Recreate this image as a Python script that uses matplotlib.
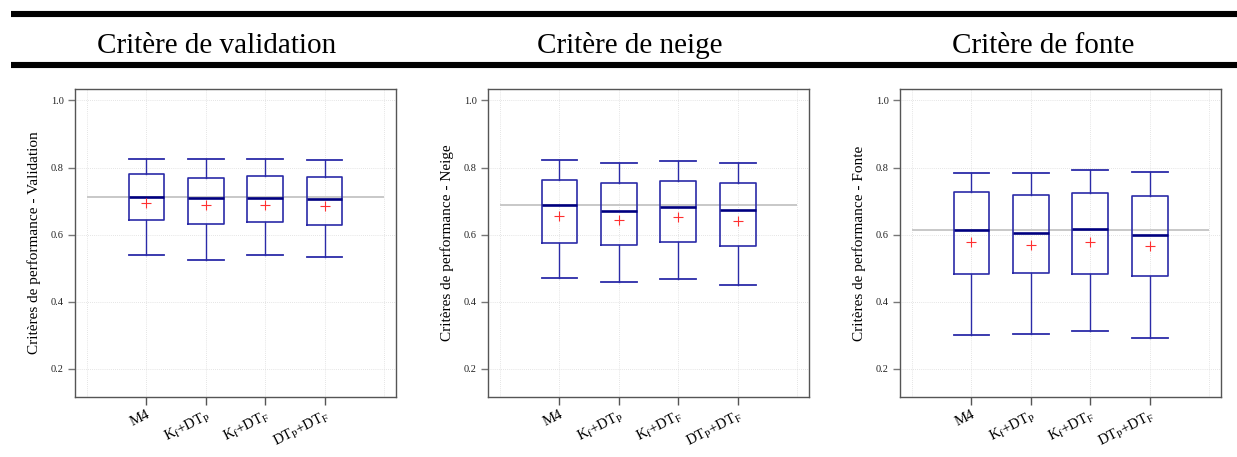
import matplotlib
matplotlib.use("Agg")
import matplotlib.pyplot as plt
from matplotlib.lines import Line2D
import matplotlib.transforms as mtransforms

plt.rcParams['font.family'] = ['Liberation Serif', 'DejaVu Serif']
plt.rcParams['mathtext.fontset'] = 'custom'
plt.rcParams['mathtext.rm'] = 'Liberation Serif'
plt.rcParams['mathtext.it'] = 'Liberation Serif:italic'
plt.rcParams['mathtext.default'] = 'regular'

categories = [r'M4', r'$K_f$+$DT_P$', r'$K_f$+$DT_F$', r'$DT_P$+$DT_F$']
titles = ['Critère de validation', 'Critère de neige', 'Critère de fonte']
ylabels = ['Critères de performance - Validation',
           'Critères de performance - Neige',
           'Critères de performance - Fonte']
yticks = [0.2, 0.4, 0.6, 0.8, 1.0]
ytick_labels = ['0.2', '0.4', '0.6', '0.8', '1.0']

# box statistics per panel: lower whisker, Q1, median, Q3, upper whisker, mean
val_low = [0.540, 0.525, 0.540, 0.534]
val_q1 = [0.644, 0.633, 0.637, 0.629]
val_med = [0.7125, 0.7085, 0.7095, 0.7075]
val_q3 = [0.780, 0.769, 0.775, 0.772]
val_high = [0.8265, 0.8255, 0.8265, 0.8235]
val_mean = [0.693, 0.687, 0.689, 0.685]

nei_low = [0.470, 0.459, 0.467, 0.449]
nei_q1 = [0.574, 0.569, 0.578, 0.566]
nei_med = [0.687, 0.671, 0.682, 0.674]
nei_q3 = [0.764, 0.754, 0.760, 0.753]
nei_high = [0.821, 0.812, 0.818, 0.812]
nei_mean = [0.654, 0.645, 0.652, 0.642]

fon_low = [0.302, 0.305, 0.312, 0.292]
fon_q1 = [0.4815, 0.4845, 0.4835, 0.4766]
fon_med = [0.614, 0.6045, 0.6164, 0.5975]
fon_q3 = [0.727, 0.718, 0.7254, 0.7145]
fon_high = [0.783, 0.785, 0.793, 0.788]
fon_mean = [0.577, 0.569, 0.578, 0.565]

panels = [
    (val_low, val_q1, val_med, val_q3, val_high, val_mean),
    (nei_low, nei_q1, nei_med, nei_q3, nei_high, nei_mean),
    (fon_low, fon_q1, fon_med, fon_q3, fon_high, fon_mean),
]

W, H = 1237, 457
fig = plt.figure(figsize=(W / 100, H / 100), dpi=100)

# title bars
for yb in (14, 65):
    fig.add_artist(Line2D([11 / W, 1.0], [1 - yb / H, 1 - yb / H],
                          transform=fig.transFigure, color='black', lw=4.4,
                          solid_capstyle='butt'))

title_x = [217, 630, 1043]
for tx, t in zip(title_x, titles):
    fig.text(tx / W, 1 - 53 / H, t, ha='center', va='baseline', fontsize=21)

lefts = [75, 488, 900]
box_color = '#2b2ba8'
for k, (left, stats) in enumerate(zip(lefts, panels)):
    low, q1, med, q3, high, mean = stats
    ax = fig.add_axes([left / W, (H - 397) / H, 321 / W, 308 / H])
    bxp_stats = []
    for i in range(len(categories)):
        bxp_stats.append(dict(whislo=low[i], q1=q1[i], med=med[i], q3=q3[i],
                              whishi=high[i], mean=mean[i], fliers=[],
                              label=categories[i]))
    pos = list(range(1, len(categories) + 1))
    # reference line at first median
    ax.hlines(med[0], 0, len(categories) + 1, color='#c8c8c8', lw=1.4, zorder=1)
    ax.bxp(bxp_stats, positions=pos, widths=0.6, showfliers=False,
           showmeans=True, patch_artist=False,
           boxprops=dict(color=box_color, lw=1.2),
           whiskerprops=dict(color=box_color, lw=1.0),
           capprops=dict(color=box_color, lw=1.3),
           capwidths=0.6,
           medianprops=dict(color='#000080', lw=1.9),
           meanprops=dict(marker='+', markeredgecolor='#ff3030',
                          markersize=6.5, markeredgewidth=0.8, linestyle='none'),
           zorder=3)
    ax.set_xlim(-0.2, 5.2)
    ax.set_ylim(0.116, 1.034)
    ax.set_yticks(yticks)
    ax.set_yticklabels(ytick_labels)
    ax.set_xticks(pos)
    ax.set_xticklabels(categories, rotation=27, ha='right', va='top',
                       rotation_mode='anchor', fontsize=10.5)
    offset = mtransforms.ScaledTranslation(8 / 100, -14 / 100, fig.dpi_scale_trans)
    for lab in ax.get_xticklabels():
        lab.set_transform(lab.get_transform() + offset)
    for g in range(0, 6):
        ax.axvline(g, color='#dcdcdc', lw=0.6, ls=(0, (1, 1.5)), zorder=0)
    for yv in yticks:
        ax.axhline(yv, color='#dcdcdc', lw=0.6, ls=(0, (1, 1.5)), zorder=0)
    ax.tick_params(axis='y', labelsize=7.5, length=5, width=1.0, color='#777777',
                   pad=3, labelcolor='#222222')
    ax.tick_params(axis='x', length=6, width=1.0, color='#555555', pad=2)
    for s in ax.spines.values():
        s.set_color('#555555')
        s.set_linewidth(1.0)
    ax.set_ylabel(ylabels[k], fontsize=11, labelpad=7)

fig.savefig('out.png', dpi=100)
